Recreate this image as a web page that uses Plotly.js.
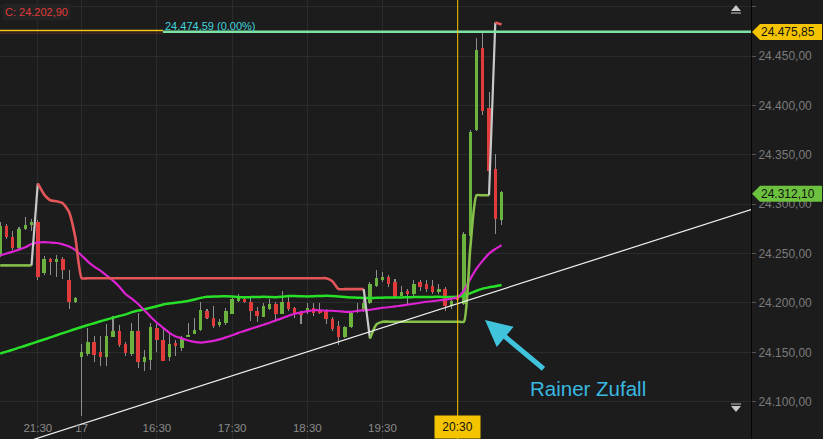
<!DOCTYPE html>
<html><head><meta charset="utf-8">
<script src="https://cdn.plot.ly/plotly-3.0.1.min.js"></script>
<style>html,body{margin:0;padding:0;background:#1c1c1c;}#chart{width:823px;height:439px;}</style>
</head><body><div id="chart"></div>
<script>
// ---- time categories (5-minute candles) ----
const day16Times = ['21:00','21:05','21:10','21:15','21:20','21:25','21:30','21:35','21:40','21:45','21:50','21:55','22:00'];
const day17Times = ['15:30','15:35','15:40','15:45','15:50','15:55',
 '16:00','16:05','16:10','16:15','16:20','16:25','16:30','16:35','16:40','16:45','16:50','16:55',
 '17:00','17:05','17:10','17:15','17:20','17:25','17:30','17:35','17:40','17:45','17:50','17:55',
 '18:00','18:05','18:10','18:15','18:20','18:25','18:30','18:35','18:40','18:45','18:50','18:55',
 '19:00','19:05','19:10','19:15','19:20','19:25','19:30','19:35','19:40','19:45','19:50','19:55',
 '20:00','20:05','20:10','20:15','20:20','20:25','20:30','20:35','20:40','20:45','20:50','20:55',
 '21:00','21:05'];
const times = day16Times.map(t => '16 ' + t).concat(day17Times.map(t => '17 ' + t));

// ---- OHLC ----
const open = [24250,24278,24267,24256,24275,24279,24282,24230,24245,24241,24245,24223,24201,
 24145,24148,24160,24150,24145,24166,24172,24158,24148,24172,
 24140,24142,24175,24162,24145,24159,24154,24166,24169,24173,
 24192,24185,24178,24180,24189,24202,24204,24201,24192,24186,
 24194,24199,24189,24201,24195,24190,24192,24195,24192,24192,
 24184,24177,24165,24176,24191,24192,24200,24217,24223,24226,
 24221,24207,24212,24209,24221,24219,24217,24211,24214,24197,
 24205,24199,24268,24375,24458,24397,24336,24284];
const high = [24282,24280,24273,24277,24287,24285,24284,24248,24246,24249,24247,24233,24206,
 24158,24175,24167,24167,24179,24187,24178,24160,24180,24190,
 24152,24180,24179,24174,24169,24162,24167,24180,24185,24201,
 24194,24197,24184,24195,24207,24209,24206,24206,24196,24200,
 24204,24201,24212,24208,24196,24192,24200,24200,24200,24194,
 24186,24182,24177,24191,24200,24204,24221,24233,24231,24228,
 24224,24217,24214,24223,24223,24223,24223,24219,24216,24204,
 24212,24272,24375,24468,24475.85,24414,24351,24313];
const low = [24247,24265,24254,24254,24274,24273,24223,24228,24228,24226,24224,24194,24200,
 24086,24146,24140,24136,24136,24165,24155,24146,24146,24134,
 24131,24132,24150,24141,24141,24146,24151,24165,24169,24172,
 24184,24175,24176,24178,24189,24201,24200,24182,24181,24186,
 24193,24181,24189,24192,24185,24179,24189,24187,24189,24179,
 24172,24157,24164,24175,24190,24191,24199,24216,24221,24216,
 24206,24207,24199,24207,24212,24211,24209,24209,24192,24194,
 24198,24198,24266,24374,24390,24330,24270,24279];
const close = [24278,24267,24256,24275,24279,24282,24226,24245,24241,24245,24233,24201,24205,
 24150,24160,24147,24145,24167,24172,24157,24149,24172,24140,
 24145,24176,24162,24141,24158,24156,24163,24168,24173,24193,
 24185,24177,24181,24192,24204,24207,24201,24192,24187,24197,
 24199,24189,24201,24194,24190,24188,24195,24190,24190,24184,
 24174,24165,24176,24190,24192,24200,24219,24225,24226,24219,
 24207,24211,24209,24219,24216,24214,24211,24214,24197,24202,
 24202.9,24270,24373,24456,24394,24334,24285,24312.1];

// ---- indicators ----
const maFast = [24248,24250,24252,24254,24256.4,24259.6,24261.2,24261.5,24261.2,24260.7,24259.3,24257.1,24253.5,
 24248,24241.9,24236.8,24232.7,24227.6,24222.6,24216.5,24209,24204.3,24198.9,
 24192.6,24186,24179.9,24174.8,24169.7,24166.1,24164.1,24162,24160.5,24159.8,
 24160.5,24161.6,24163.1,24165.1,24167.2,24169.7,24171.7,24173.8,24175.8,24177.9,
 24179.9,24182.4,24184.4,24187,24189,24190.5,24191.6,24192.6,24192.6,24192.1,
 24192.1,24191.6,24191,24191,24192.1,24192.6,24193.1,24194.1,24195.1,24195.6,
 24196.6,24197.2,24198.2,24199.2,24200.2,24201.2,24201.7,24202.7,24203.2,24204.3,
 24205.8,24212.4,24224.1,24234.7,24242.9,24250,24254.6,24258.6];
const maSlow = [24148.7,24150.7,24152.6,24154.7,24156.6,24158.8,24160.9,24163,24165.1,24167.3,24169.4,24171.5,24173.6,
 24175.6,24177.6,24179.5,24181.4,24183.2,24185,24186.7,24188.4,24190.7,24192.3,
 24193.6,24195.1,24196.7,24198.4,24199.4,24200.2,24201,24201.9,24203.5,24205.1,
 24206.3,24206.4,24206.6,24206.8,24206.5,24206.0,24205.8,24205.9,24206.0,24206.2,
 24206.0,24205.8,24206.3,24206.9,24207.0,24206.8,24206.6,24206.8,24207.0,24207.3,
 24207.0,24206.6,24206.0,24205.6,24205.3,24205.1,24205.0,24205.2,24205.3,24205.5,
 24205.6,24205.6,24205.7,24205.9,24206.0,24206.1,24206.1,24206.2,24206.0,24206.0,
 24206.2,24207.4,24209.7,24212.3,24214.5,24215.8,24216.9,24218.2];
const stopLine = [24238,24238,24238,24238,24238,24238,24321,24310,24304,24303,24301,24292,24266,
 24225,24225,24225,24225,24225,24225,24225,24225,24225,24225,
 24225,24225,24225,24225,24225,24225,24225,24225,24225,24225,
 24225,24225,24225,24225,24225,24225,24225,24225,24225,24225,
 24225,24225,24225,24225,24225,24225,24225,24225,24225,24225,
 24222,24214,24214,24214,24214,24214,24164,24178,24181,24181,
 24181,24181,24181,24181,24181,24181,24181,24181,24181,24181,
 24181,24181,24255,24309,24309,24309,24484,24482];
const stopSide = 'gggggg' + 'rrrrrrr' + 'rrrrrrrrrr' + 'rrrrrrrrrr' + 'rrrrrrrrrr' + 'rrrrrrrrrr' + 'rrrrrr' + 'gggggggggggggggggggg' + 'rr';

const trendIdx = [0, 120];
const trendVal = [24050.9, 24294.9];

const tickTimes = ['16 21:30','17 15:30','17 16:30','17 17:30','17 18:30','17 19:30','17 20:30'];
const tickLabels = ['21:30','17','16:30','17:30','18:30','19:30','20:30'];
const yTicks = [24100,24150,24200,24250,24300,24350,24400,24450,24500];

const dayHigh = 24475.85;
const refLevel = 24474.59;
const refPct = '0.00%';
const crossTime = '17 20:30';
const calloutText = 'Rainer Zufall';

// ---- helpers ----
const fmt = v => { const p = v.toFixed(2).split('.'); return p[0].replace(/\B(?=(\d{3})+(?!\d))/g, '.') + ',' + p[1]; };
const n = times.length;
const xs = times.map((t, i) => i);
const crossIdx = times.indexOf(crossTime);
const lastClose = close[n - 1];
const crossClose = close[crossIdx];

const GREEN = '#6cb23f', RED = '#e23b3b';
const traces = [];
// wicks
traces.push({type:'bar', x: xs, base: low, y: high.map((h, i) => h - low[i]), width: 0.17,
  marker: {color: '#8f8f8f', line: {width: 0}}, hoverinfo: 'skip', showlegend: false});
// bodies
traces.push({type:'bar', x: xs, base: open.map((o, i) => Math.min(o, close[i])),
  y: open.map((o, i) => Math.max(Math.abs(close[i] - o), 1)), width: 0.55,
  marker: {color: open.map((o, i) => close[i] >= o ? GREEN : RED), line: {width: 0}}, hoverinfo: 'skip', showlegend: false});
// moving averages
traces.push({type:'scatter', mode:'lines', x: xs, y: maSlow, line: {color:'#27e027', width: 2.5, shape:'spline', smoothing: 0.6}, hoverinfo:'skip', showlegend:false});
traces.push({type:'scatter', mode:'lines', x: xs, y: maFast, line: {color:'#dc22d2', width: 2.2, shape:'spline', smoothing: 0.6}, hoverinfo:'skip', showlegend:false});
// stop line segments
let start = 0;
for (let i = 1; i <= n; i++) {
  if (i === n || stopSide[i] !== stopSide[start]) {
    const sx = [], sy = [];
    for (let k = start; k < i; k++) { sx.push(k); sy.push(stopLine[k]); }
    traces.push({type:'scatter', mode:'lines', x: sx, y: sy,
      line: {color: stopSide[start] === 'g' ? '#86c04a' : '#e25558', width: 2.6, shape:'spline', smoothing: 0.5},
      hoverinfo:'skip', showlegend:false});
    if (i < n) traces.push({type:'scatter', mode:'lines', x: [i - 1, i], y: [stopLine[i - 1], stopLine[i]],
      line: {color:'#c9c9c9', width: 2.2}, hoverinfo:'skip', showlegend:false});
    start = i;
  }
}
// trend line
traces.push({type:'scatter', mode:'lines', x: trendIdx, y: trendVal, line: {color:'#f2f2f2', width: 1.2}, hoverinfo:'skip', showlegend:false});

const BG = '#1c1c1c';
const TAG = 'M1,-1.5 L9,6.5 L71,6.5 L71,-9.5 L9,-9.5 Z';
const layout = {
  width: 823, height: 439,
  margin: {l: 0, r: 72, t: 0, b: 0},
  paper_bgcolor: BG, plot_bgcolor: BG,
  separators: ',.',
  barmode: 'overlay', bargap: 0,
  showlegend: false, hovermode: false,
  font: {family: 'Liberation Sans, Arial, sans-serif'},
  xaxis: {
    range: [-0.03, 119.8], tickmode: 'array',
    tickvals: tickTimes.map(t => times.indexOf(t)),
    ticktext: tickLabels.map((l, i) => tickTimes[i] === crossTime ? '' : l),
    ticklabelposition: 'inside', ticklabelstandoff: 2, ticks: '', showgrid: true, gridcolor: '#2b2b2b', gridwidth: 1,
    zeroline: false, showline: false, tickfont: {size: 11.5, color: '#8a8a8a'}, fixedrange: true
  },
  yaxis: {
    side: 'right', range: [24062.2, 24506.8], tickmode: 'array', tickvals: yTicks, tickformat: ',.2f',
    showgrid: true, gridcolor: '#2b2b2b', gridwidth: 1, zeroline: false,
    ticks: 'outside', ticklen: 4, tickcolor: '#555', showline: true, linecolor: '#050505', linewidth: 1,
    tickfont: {size: 12, color: '#7b7b7b'}, fixedrange: true
  },
  shapes: [
    // label strip under x tick labels
    {type:'rect', xref:'paper', yref:'paper', x0: 0, x1: 1, y0: 0, y1: 0.05, fillcolor: BG, line: {width: 0}, layer: 'between'},
    // day-high level (yellow) and reference level (green)
    {type:'line', xref:'paper', yref:'y', x0: 0, x1: 0.217, y0: dayHigh, y1: dayHigh, line: {color:'#f0c419', width: 1.5}},
    {type:'line', xref:'paper', yref:'y', x0: 0, x1: 0.217, y0: refLevel - 1.4, y1: refLevel - 1.4, line: {color:'#5a2a22', width: 1}},
    {type:'line', xref:'paper', yref:'y', x0: 0.217, x1: 1, y0: refLevel, y1: refLevel, line: {color:'#7ee2a4', width: 2.4}},
    // crosshair
    {type:'line', xref:'x', yref:'paper', x0: crossIdx, x1: crossIdx, y0: 0, y1: 1, line: {color:'#f5c400', width: 1}},
    // price tags on right axis
    {type:'path', xref:'paper', yref:'y', xsizemode:'pixel', ysizemode:'pixel', xanchor: 1, yanchor: dayHigh,
      path: TAG, fillcolor:'#f5c400', line:{width:0}, layer:'above'},
    {type:'path', xref:'paper', yref:'y', xsizemode:'pixel', ysizemode:'pixel', xanchor: 1, yanchor: lastClose,
      path: TAG, fillcolor:'#6cc13e', line:{width:0}, layer:'above'},
    // scroll icons
    {type:'path', xref:'paper', yref:'paper', xsizemode:'pixel', ysizemode:'pixel', xanchor: 0.98, yanchor: 1,
      path:'M-5,-11 L0,-5 L5,-11 Z', fillcolor:'#c8c8c8', line:{width:0}},
    {type:'path', xref:'paper', yref:'paper', xsizemode:'pixel', ysizemode:'pixel', xanchor: 0.98, yanchor: 1,
      path:'M-5,-13 L5,-13', line:{color:'#c8c8c8', width:1}},
    {type:'path', xref:'paper', yref:'paper', xsizemode:'pixel', ysizemode:'pixel', xanchor: 0.98, yanchor: 0,
      path:'M-5,33 L0,27 L5,33 Z', fillcolor:'#c8c8c8', line:{width:0}},
    {type:'path', xref:'paper', yref:'paper', xsizemode:'pixel', ysizemode:'pixel', xanchor: 0.98, yanchor: 0,
      path:'M-5,35 L5,35', line:{color:'#c8c8c8', width:1}}
  ],
  annotations: [
    {xref:'paper', yref:'paper', x: 0, y: 1, xanchor:'left', yanchor:'top', xshift: 2, yshift: -3,
      text: 'C: ' + fmt(crossClose), showarrow: false, font: {size: 11, color: '#e03c3c'}, bgcolor: '#232323', borderpad: 2},
    {xref:'paper', yref:'y', x: 0.217, y: refLevel, xanchor:'left', yanchor:'bottom', yshift: -2,
      text: fmt(refLevel) + ' (' + refPct + ')', showarrow: false, font: {size: 11, color: '#3fd3dc'}},
    {xref:'paper', yref:'y', x: 1, y: dayHigh, xanchor:'center', xshift: 37, yshift: -1.5, text: fmt(dayHigh), showarrow: false,
      font: {size: 12, color: '#111'}},
    {xref:'paper', yref:'y', x: 1, y: lastClose, xanchor:'center', xshift: 37, yshift: -1.5, text: fmt(lastClose), showarrow: false,
      font: {size: 12, color: '#111'}},
    {xref:'x', yref:'paper', x: crossIdx, y: 0, xanchor:'center', yanchor:'bottom', width: 43, height: 20,
      text: crossTime.split(' ')[1], showarrow: false, bgcolor:'#f5c400', font: {size: 12, color: '#111'}},
    {xref:'paper', yref:'paper', x: 0.6458, y: 0.271, text: '', showarrow: true, ax: 60, ay: 50,
      arrowcolor:'#3fc4dc', arrowwidth: 5, arrowhead: 2, arrowsize: 1.05, standoff: 0},
    {xref:'paper', yref:'paper', x: 0.783, y: 0.116, xanchor:'center', yanchor:'middle', text: calloutText, showarrow: false,
      font: {size: 20.5, color: '#3ab8e0'}}
  ]
};
Plotly.newPlot('chart', traces, layout, {staticPlot: true, displayModeBar: false});
</script></body></html>
